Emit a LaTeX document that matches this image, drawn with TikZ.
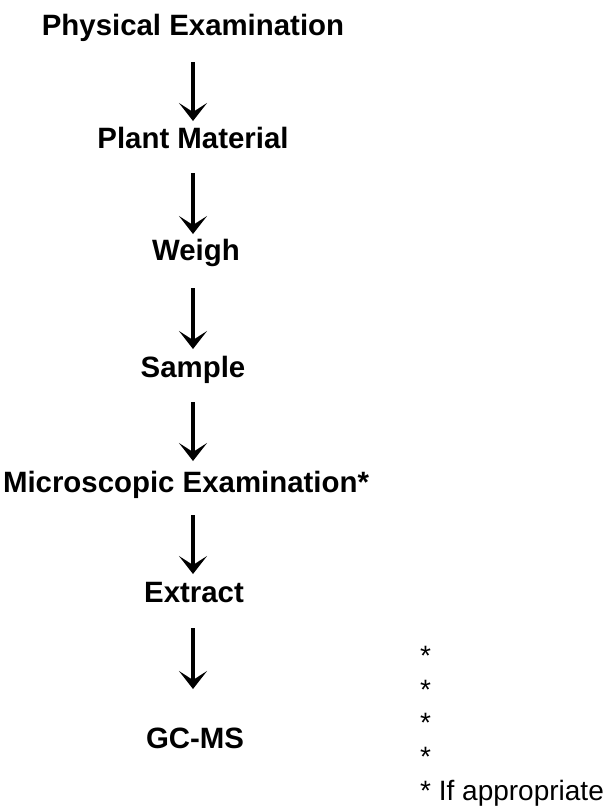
\documentclass[tikz,border=0pt]{standalone}
\usepackage{fontspec}
\setmainfont{Liberation Sans}
\usetikzlibrary{arrows.meta}
\begin{document}
\begin{tikzpicture}[x=1pt,y=-1pt,
  stepbox/.style={anchor=base,inner sep=0pt,font=\fontsize{29.4}{35}\selectfont\bfseries,text height=21pt,text depth=6pt},
  notebox/.style={anchor=base west,inner sep=0pt,align=left,font=\fontsize{28}{33.6}\selectfont},
  flow/.style={line width=3.2pt,-{Stealth[length=18pt,width=28pt,inset=9pt]}}]
\useasboundingbox (0,0) rectangle (616,812);
\node[stepbox] (pe) at (193,35) {Physical Examination};
\node[stepbox] (pm) at (193,148) {Plant Material};
\node[stepbox] (we) at (196,260) {Weigh};
\node[stepbox] (sa) at (193,377) {Sample};
\node[stepbox] (me) at (186,492) {Microscopic Examination*};
\node[stepbox] (ex) at (194,602) {Extract};
\node[stepbox] (gc) at (195,748) {GC-MS};
\node[notebox] (note) at (420,800) {*\\*\\*\\*\\* If appropriate};
\coordinate (a1s) at (193,62);  \coordinate (a1e) at (193,121);
\coordinate (a2s) at (193,173); \coordinate (a2e) at (193,234);
\coordinate (a3s) at (193,288); \coordinate (a3e) at (193,349);
\coordinate (a4s) at (193,402); \coordinate (a4e) at (193,461);
\coordinate (a5s) at (193,515); \coordinate (a5e) at (193,574);
\coordinate (a6s) at (193,628); \coordinate (a6e) at (193,689);
\draw[flow] (a1s) -- (a1e);
\draw[flow] (a2s) -- (a2e);
\draw[flow] (a3s) -- (a3e);
\draw[flow] (a4s) -- (a4e);
\draw[flow] (a5s) -- (a5e);
\draw[flow] (a6s) -- (a6e);
\end{tikzpicture}
\end{document}
